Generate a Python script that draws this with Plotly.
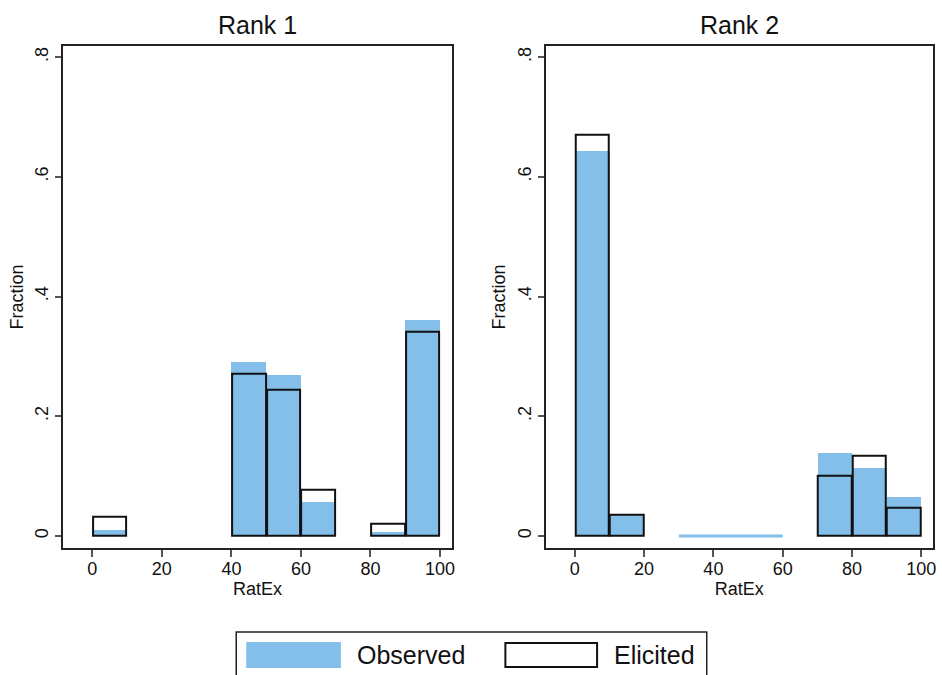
import plotly.graph_objects as go

# ---- data ----
bin_edges = [0, 10, 20, 30, 40, 50, 60, 70, 80, 90]
bin_width = 10
rank1_observed = [0.010, None, None, None, 0.292, 0.269, 0.057, None, 0.007, 0.362]
rank1_elicited = [0.032, None, None, None, 0.271, 0.244, 0.077, None, 0.021, 0.341]
rank2_observed = [0.643, 0.036, None, 0.0, 0.0, 0.0, None, 0.139, 0.114, 0.065]
rank2_elicited = [0.671, 0.035, None, None, None, None, None, 0.100, 0.135, 0.047]
panel_titles = ["Rank 1", "Rank 2"]
x_tickvals = [0, 20, 40, 60, 80, 100]
y_tickvals = [0, 0.2, 0.4, 0.6, 0.8]
y_ticktext = ["0", ".2", ".4", ".6", ".8"]
legend_labels = ["Observed", "Elicited"]

BLUE = "#84BFE9"
FONT = "Liberation Sans, Arial, sans-serif"

fig = go.Figure()

def add_panel(obs, eli, xa, ya):
    # observed filled bars (non-zero)
    xs = [e + bin_width / 2 for e, v in zip(bin_edges, obs) if v]
    ys = [v for v in obs if v]
    fig.add_trace(go.Bar(x=xs, y=ys, width=bin_width, marker=dict(color=BLUE, line=dict(width=0)),
                         xaxis=xa, yaxis=ya, showlegend=False, name=legend_labels[0]))
    # zero-height observed bins drawn as a line at baseline
    zx, zy = [], []
    for e, v in zip(bin_edges, obs):
        if v is not None and v == 0:
            zx += [e, e + bin_width, None]
            zy += [0, 0, None]
    if zx:
        fig.add_trace(go.Scatter(x=zx, y=zy, mode="lines", line=dict(color=BLUE, width=3),
                                 xaxis=xa, yaxis=ya, showlegend=False, hoverinfo="skip"))
    # elicited outline bars
    xe = [e + bin_width / 2 for e, v in zip(bin_edges, eli) if v is not None]
    ye = [v for v in eli if v is not None]
    fig.add_trace(go.Bar(x=xe, y=ye, width=bin_width * 0.97,
                         marker=dict(color="rgba(0,0,0,0)", line=dict(color="#111111", width=2)),
                         xaxis=xa, yaxis=ya, showlegend=False, name=legend_labels[1]))

add_panel(rank1_observed, rank1_elicited, "x", "y")
add_panel(rank2_observed, rank2_elicited, "x2", "y2")

ydom = [0.1877, 0.9323]
xdoms = [[0.0672, 0.4812], [0.5812, 0.9936]]

axis_common = dict(showline=True, linecolor="#222222", linewidth=1.5, mirror=True,
                   ticks="outside", tickcolor="#555555", tickwidth=1.5, showgrid=False,
                   zeroline=False, tickfont=dict(family=FONT, size=18, color="#111111"))

xax = dict(range=[-8.4, 103.4], tickvals=x_tickvals, ticklen=7, ticklabelstandoff=-4,
           title=dict(text="RatEx", font=dict(family=FONT, size=18, color="#111111"), standoff=0),
           **axis_common)
yax = dict(range=[-0.0205, 0.819], tickvals=y_tickvals, ticktext=y_ticktext, ticklen=6,
           tickangle=-90,
           title=dict(text="Fraction", font=dict(family=FONT, size=18, color="#111111"), standoff=4),
           **axis_common)

fig.update_layout(
    width=942, height=675, autosize=False,
    margin=dict(l=0, r=0, t=0, b=0),
    paper_bgcolor="white", plot_bgcolor="white",
    barmode="overlay", bargap=0,
    font=dict(family=FONT, color="#111111"),
    xaxis=dict(domain=xdoms[0], anchor="y", **xax),
    yaxis=dict(domain=ydom, anchor="x", **yax),
    xaxis2=dict(domain=xdoms[1], anchor="y2", **xax),
    yaxis2=dict(domain=ydom, anchor="x2", **yax),
    showlegend=False,
)

for i, t in enumerate(panel_titles):
    fig.add_annotation(text=t, x=sum(xdoms[i]) / 2, y=1 - 25 / 675, xref="paper", yref="paper",
                       showarrow=False, font=dict(family=FONT, size=25, color="#111111"),
                       xanchor="center", yanchor="middle")

# custom legend box (bottom)
fig.add_shape(type="rect", xref="paper", yref="paper", x0=237 / 942, x1=709 / 942,
              y0=-0.05, y1=1 - 632 / 675, line=dict(color="#222222", width=1.5), fillcolor="white")
fig.add_shape(type="rect", xref="paper", yref="paper", x0=247 / 942, x1=342 / 942,
              y0=1 - 668 / 675, y1=1 - 642 / 675, line=dict(width=0), fillcolor=BLUE)
fig.add_shape(type="rect", xref="paper", yref="paper", x0=507 / 942, x1=599 / 942,
              y0=1 - 667 / 675, y1=1 - 643 / 675, line=dict(color="#111111", width=2),
              fillcolor="white")
fig.add_annotation(text=legend_labels[0], x=356 / 942, y=1 - 655 / 675, xref="paper", yref="paper",
                   showarrow=False, xanchor="left", yanchor="middle",
                   font=dict(family=FONT, size=25, color="#111111"))
fig.add_annotation(text=legend_labels[1], x=614 / 942, y=1 - 655 / 675, xref="paper", yref="paper",
                   showarrow=False, xanchor="left", yanchor="middle",
                   font=dict(family=FONT, size=25, color="#111111"))

fig.write_html("out.html")
